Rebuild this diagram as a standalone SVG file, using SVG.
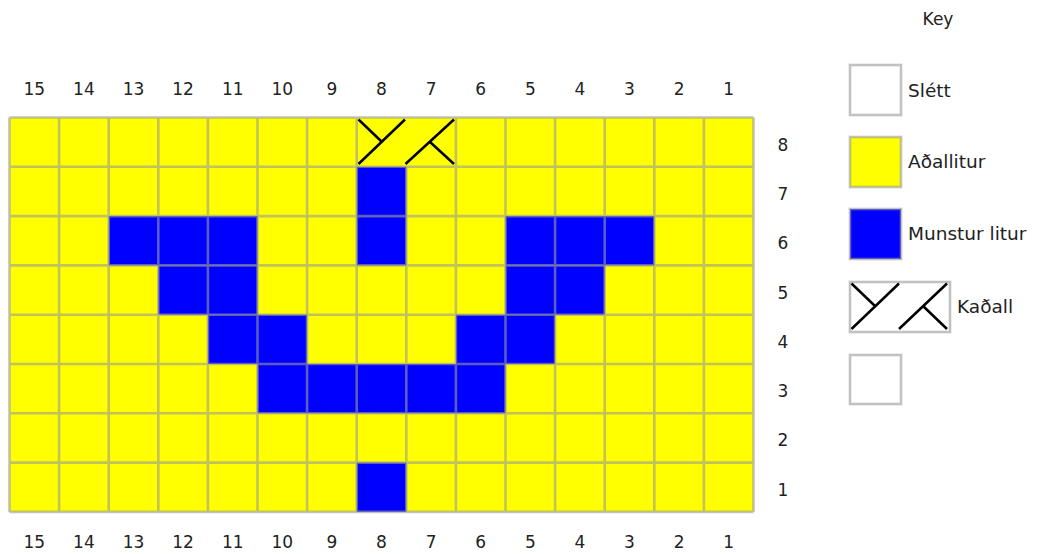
<svg xmlns="http://www.w3.org/2000/svg" width="1039" height="554" viewBox="0 0 1039 554">
<style>
.lbl{font-family:"DejaVu Sans","Liberation Sans",sans-serif;font-size:17px;fill:#222;text-anchor:middle}
.key{font-family:"DejaVu Sans","Liberation Sans",sans-serif;font-size:18.5px;fill:#222}
.grid{fill:none;stroke:#999;stroke-opacity:0.6;stroke-width:2.6}
.y{fill:#ffff00}
.b{fill:#0000ff}
.w{fill:#ffffff}
.cable{stroke:#000;stroke-width:2.5;fill:none}
</style>
<rect width="1039" height="554" fill="#fff"/>
<g id="chart">
<rect class="y" x="9.5" y="117.5" width="744" height="394.4"/>
<g id="blue">
<rect class="b" x="356.7" y="166.8" width="49.6" height="49.3"/>
<rect class="b" x="108.7" y="216.1" width="148.8" height="49.3"/>
<rect class="b" x="356.7" y="216.1" width="49.6" height="49.3"/>
<rect class="b" x="505.5" y="216.1" width="148.8" height="49.3"/>
<rect class="b" x="158.3" y="265.4" width="99.2" height="49.3"/>
<rect class="b" x="505.5" y="265.4" width="99.2" height="49.3"/>
<rect class="b" x="207.9" y="314.7" width="99.2" height="49.3"/>
<rect class="b" x="455.9" y="314.7" width="99.2" height="49.3"/>
<rect class="b" x="257.5" y="364.0" width="248" height="49.3"/>
<rect class="b" x="356.7" y="462.6" width="49.6" height="49.3"/>
</g>
<path class="grid" d="M9.5 117.5H753.5M9.5 166.8H753.5M9.5 216.1H753.5M9.5 265.4H753.5M9.5 314.7H753.5M9.5 364H753.5M9.5 413.3H753.5M9.5 462.6H753.5M9.5 511.9H753.5
M9.5 117.5V511.9M59.1 117.5V511.9M108.7 117.5V511.9M158.3 117.5V511.9M207.9 117.5V511.9M257.5 117.5V511.9M307.1 117.5V511.9M356.7 117.5V511.9M406.3 166.8V511.9M455.9 117.5V511.9M505.5 117.5V511.9M555.1 117.5V511.9M604.7 117.5V511.9M654.3 117.5V511.9M703.9 117.5V511.9M753.5 117.5V511.9"/>
<path class="cable" d="M358.5 164L405 119.5M358.5 119.5L381.5 141.5M405.5 164L454 119.5M429.5 141.5L454 164"/>
</g>
<g id="col-top">
<text class="lbl" x="34.3" y="95">15</text><text class="lbl" x="83.9" y="95">14</text><text class="lbl" x="133.5" y="95">13</text><text class="lbl" x="183.1" y="95">12</text><text class="lbl" x="232.7" y="95">11</text><text class="lbl" x="282.3" y="95">10</text><text class="lbl" x="331.9" y="95">9</text><text class="lbl" x="381.5" y="95">8</text><text class="lbl" x="431.1" y="95">7</text><text class="lbl" x="480.7" y="95">6</text><text class="lbl" x="530.3" y="95">5</text><text class="lbl" x="579.9" y="95">4</text><text class="lbl" x="629.5" y="95">3</text><text class="lbl" x="679.1" y="95">2</text><text class="lbl" x="728.7" y="95">1</text>
</g>
<g id="col-bottom">
<text class="lbl" x="34.3" y="548">15</text><text class="lbl" x="83.9" y="548">14</text><text class="lbl" x="133.5" y="548">13</text><text class="lbl" x="183.1" y="548">12</text><text class="lbl" x="232.7" y="548">11</text><text class="lbl" x="282.3" y="548">10</text><text class="lbl" x="331.9" y="548">9</text><text class="lbl" x="381.5" y="548">8</text><text class="lbl" x="431.1" y="548">7</text><text class="lbl" x="480.7" y="548">6</text><text class="lbl" x="530.3" y="548">5</text><text class="lbl" x="579.9" y="548">4</text><text class="lbl" x="629.5" y="548">3</text><text class="lbl" x="679.1" y="548">2</text><text class="lbl" x="728.7" y="548">1</text>
</g>
<g id="rows">
<text class="lbl" x="783" y="151">8</text><text class="lbl" x="783" y="200">7</text><text class="lbl" x="783" y="249">6</text><text class="lbl" x="783" y="299">5</text><text class="lbl" x="783" y="348">4</text><text class="lbl" x="783" y="397">3</text><text class="lbl" x="783" y="446">2</text><text class="lbl" x="783" y="496">1</text>
</g>
<g id="legend">
<text class="key" x="938" y="25" text-anchor="middle" style="font-size:17px">Key</text>
<g id="key-slett"><rect class="w" x="850" y="65" width="51" height="50" stroke="#999" stroke-opacity="0.6" stroke-width="2.6"/><text class="key" x="908" y="97">Slétt</text></g>
<g id="key-adallitur"><rect class="y" x="850" y="137" width="51" height="50" stroke="#999" stroke-opacity="0.6" stroke-width="2.6"/><text class="key" x="908" y="168">Aðallitur</text></g>
<g id="key-munstur"><rect class="b" x="850" y="209" width="51" height="50" stroke="#999" stroke-opacity="0.6" stroke-width="2.6"/><text class="key" x="908" y="240">Munstur litur</text></g>
<g id="key-kadall"><rect class="w" x="850" y="282" width="100" height="50" stroke="#999" stroke-opacity="0.6" stroke-width="2.6"/><path class="cable" d="M851.5 329L899 283.5M851.5 283.5L875 306M899 329L947 283.5M923 306L947 329"/><text class="key" x="957" y="313">Kaðall</text></g>
<g id="key-empty"><rect class="w" x="850" y="355" width="51" height="49" stroke="#999" stroke-opacity="0.6" stroke-width="2.6"/></g>
</g>
</svg>
